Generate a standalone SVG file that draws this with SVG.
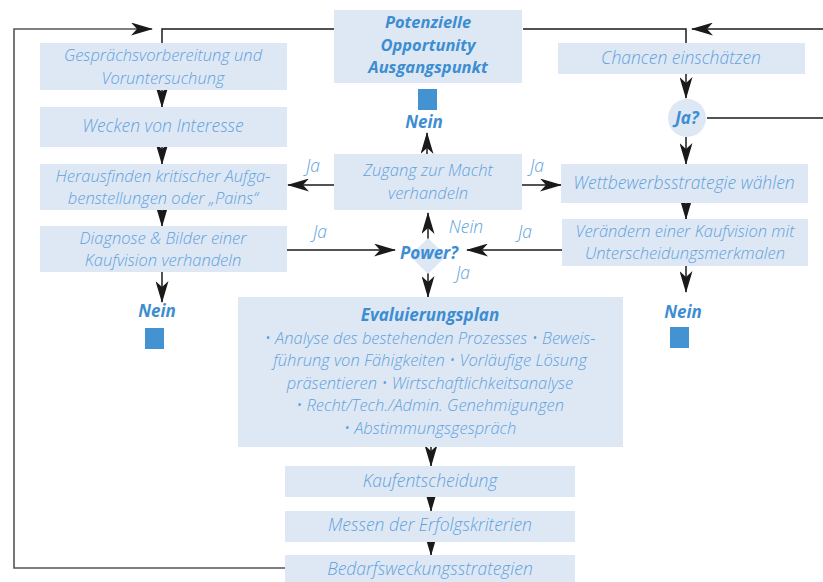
<svg xmlns="http://www.w3.org/2000/svg" width="823" height="582" viewBox="0 0 823 582">
<defs>
<marker id="ah" markerUnits="userSpaceOnUse" markerWidth="22" markerHeight="13" viewBox="0 0 22 13" refX="21" refY="6.5" orient="auto">
<path d="M0,0 L22,6.5 L0,13 L6,6.5 Z" fill="#1a1a1a"/>
</marker>
<style>
.box{fill:#dee8f5}
.t{font-family:"Open Sans","Noto Sans",sans-serif;font-style:italic;font-weight:300;font-size:16.5px;fill:#5ea2dc;text-anchor:middle}
.t1{font-size:17.5px}
.b{font-family:"Open Sans","Noto Sans",sans-serif;font-style:italic;font-weight:700;font-size:17px;fill:#3d8dd1;text-anchor:middle}
.b2{font-size:16.5px}
.sq{fill:#4393d3}
.c{fill:none;stroke:#1a1a1a;stroke-width:1.5}
.loop{fill:none;stroke:#555;stroke-width:1.6}
</style>
</defs>
<rect width="823" height="582" fill="#ffffff"/>
<g id="connectors">
<polyline class="loop" points="285,568 14,568 14,29 152,29" marker-end="url(#ah)"/>
<polyline class="c" points="334,29 162,29 162,43"/>
<polyline class="c" points="523,29 686,29 686,43"/>
<line class="c" x1="823" y1="29" x2="692" y2="29" marker-end="url(#ah)"/>
<line class="c" x1="707" y1="118" x2="823" y2="118"/>
<line class="c" x1="162" y1="90" x2="162" y2="107" marker-end="url(#ah)"/>
<line class="c" x1="162" y1="147" x2="162" y2="164" marker-end="url(#ah)"/>
<line class="c" x1="162" y1="210" x2="162" y2="226" marker-end="url(#ah)"/>
<line class="c" x1="162" y1="272" x2="162" y2="302" marker-end="url(#ah)"/>
<line class="c" x1="427" y1="154" x2="427" y2="133" marker-end="url(#ah)"/>
<line class="c" x1="334" y1="185" x2="288" y2="185" marker-end="url(#ah)"/>
<line class="c" x1="522" y1="185" x2="561" y2="185" marker-end="url(#ah)"/>
<line class="c" x1="428" y1="240" x2="428" y2="213" marker-end="url(#ah)"/>
<line class="c" x1="428" y1="272" x2="428" y2="297" marker-end="url(#ah)"/>
<line class="c" x1="287" y1="250" x2="395" y2="250" marker-end="url(#ah)"/>
<line class="c" x1="562" y1="250" x2="467" y2="250" marker-end="url(#ah)"/>
<line class="c" x1="686" y1="74" x2="686" y2="98" marker-end="url(#ah)"/>
<line class="c" x1="686" y1="137" x2="686" y2="164" marker-end="url(#ah)"/>
<line class="c" x1="686" y1="203" x2="686" y2="219" marker-end="url(#ah)"/>
<line class="c" x1="686" y1="266" x2="686" y2="292" marker-end="url(#ah)"/>
<line class="c" x1="431" y1="447" x2="431" y2="466" marker-end="url(#ah)"/>
<line class="c" x1="431" y1="497" x2="431" y2="511" marker-end="url(#ah)"/>
<line class="c" x1="431" y1="542" x2="431" y2="555" marker-end="url(#ah)"/>
</g>
<g id="labels">
<text class="t t1" x="313" y="172">Ja</text>
<text class="t t1" x="537" y="172">Ja</text>
<text class="t t1" x="320" y="238">Ja</text>
<text class="t t1" x="525" y="238">Ja</text>
<text class="t t1" x="466" y="233">Nein</text>
<text class="t t1" x="463" y="279">Ja</text>
</g>
<g id="n-vorbereitung"><rect class="box" x="40" y="43" width="247" height="47"/><text class="t" x="163" y="61">Gesprächsvorbereitung und<tspan x="163" dy="22.5">Voruntersuchung</tspan></text></g>
<g id="n-wecken"><rect class="box" x="40" y="107" width="247" height="40"/><text class="t t1" x="163" y="132">Wecken von Interesse</text></g>
<g id="n-herausfinden"><rect class="box" x="40" y="164" width="247" height="46"/><text class="t" x="163" y="181.5">Herausfinden kritischer Aufga-<tspan x="163" dy="22.5">benstellungen oder „Pains“</tspan></text></g>
<g id="n-diagnose"><rect class="box" x="40" y="226" width="247" height="46"/><text class="t" x="163" y="243.5">Diagnose &amp; Bilder einer<tspan x="163" dy="22.5">Kaufvision verhandeln</tspan></text></g>
<g id="n-nein-left"><text class="b" x="157" y="317">Nein</text><rect class="sq" x="145" y="328" width="19" height="21"/></g>
<g id="n-potenzielle"><rect class="box" x="334" y="10" width="188" height="73"/><text class="b b2" x="428" y="28">Potenzielle<tspan x="428" dy="22.5">Opportunity</tspan><tspan x="428" dy="22.5">Ausgangspunkt</tspan></text></g>
<g id="n-nein-top"><rect class="sq" x="418" y="89" width="19" height="21"/><text class="b" x="424" y="128">Nein</text></g>
<g id="n-zugang"><rect class="box" x="334" y="154" width="188" height="56"/><text class="t" x="428" y="176">Zugang zur Macht<tspan x="428" dy="22.5">verhandeln</tspan></text></g>
<g id="n-power"><polygon class="box" points="428,238 446,256 428,274 410,256"/><text class="b" x="429" y="259">Power?</text></g>
<g id="n-chancen"><rect class="box" x="558" y="43" width="247" height="31"/><text class="t t1" x="681" y="64">Chancen einschätzen</text></g>
<g id="n-ja"><circle class="box" cx="687" cy="118" r="19"/><text class="b" x="687" y="124">Ja?</text></g>
<g id="n-wettbewerb"><rect class="box" x="561" y="164" width="247" height="39"/><text class="t t1" x="684" y="189">Wettbewerbsstrategie wählen</text></g>
<g id="n-veraendern"><rect class="box" x="562" y="219" width="246" height="47"/><text class="t" x="685" y="236.5">Verändern einer Kaufvision mit<tspan x="685" dy="22.5">Unterscheidungsmerkmalen</tspan></text></g>
<g id="n-nein-right"><text class="b" x="683" y="318">Nein</text><rect class="sq" x="670" y="327" width="19" height="21"/></g>
<g id="n-evaluierung"><rect class="box" x="238" y="297" width="385" height="150"/><text class="b" x="430" y="321">Evaluierungsplan<tspan class="t" x="430" dy="22.5">• Analyse des bestehenden Prozesses • Beweis-</tspan><tspan class="t" x="430" dy="22.5">führung von Fähigkeiten • Vorläufige Lösung</tspan><tspan class="t" x="430" dy="22.5">präsentieren • Wirtschaftlichkeitsanalyse</tspan><tspan class="t" x="430" dy="22.5">• Recht/Tech./Admin. Genehmigungen</tspan><tspan class="t" x="430" dy="22.5">• Abstimmungsgespräch</tspan></text></g>
<g id="n-kauf"><rect class="box" x="285" y="466" width="290" height="31"/><text class="t t1" x="430" y="487">Kaufentscheidung</text></g>
<g id="n-messen"><rect class="box" x="285" y="511" width="290" height="31"/><text class="t t1" x="430" y="531">Messen der Erfolgskriterien</text></g>
<g id="n-bedarf"><rect class="box" x="285" y="555" width="290" height="30"/><text class="t t1" x="430" y="575">Bedarfsweckungsstrategien</text></g>
</svg>
